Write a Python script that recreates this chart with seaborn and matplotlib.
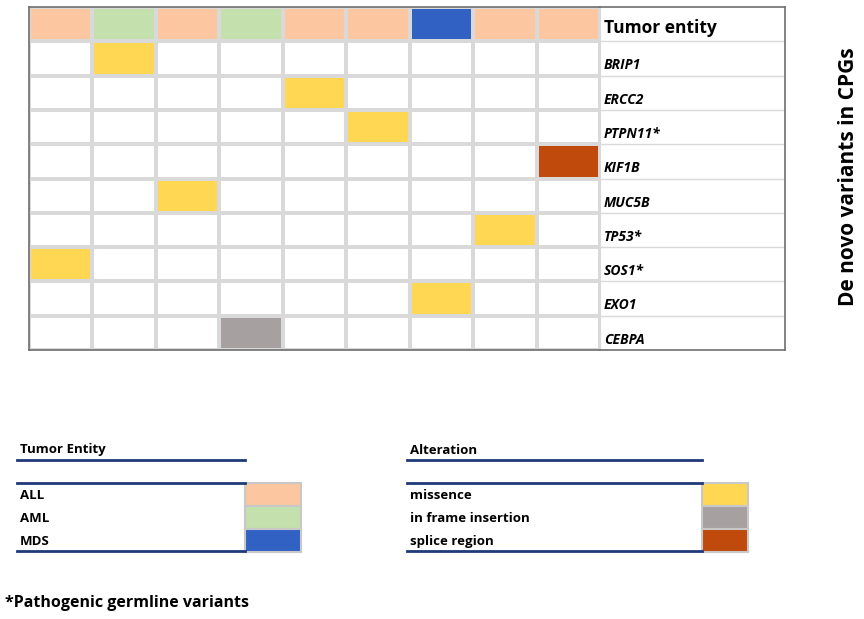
import matplotlib.pyplot as plt
import seaborn as sns
import numpy as np
from matplotlib.colors import ListedColormap
from matplotlib.patches import Rectangle

# Samples (columns) and their tumor entity
sample_entity = ["ALL", "AML", "ALL", "AML", "ALL", "ALL", "MDS", "ALL", "ALL"]

# Genes (rows) with the sample carrying the variant and the alteration type
genes = ["BRIP1", "ERCC2", "PTPN11*", "KIF1B", "MUC5B", "TP53*", "SOS1*", "EXO1", "CEBPA"]
variant_sample = [1, 4, 5, 8, 2, 7, 0, 6, 3]
variant_type = ["missence", "missence", "missence", "splice region", "missence",
                "missence", "missence", "missence", "in frame insertion"]

entities = ["ALL", "AML", "MDS"]
alterations = ["missence", "in frame insertion", "splice region"]

entity_colors = ["#FBC6A0", "#C4E0AD", "#3161C2"]
alteration_colors = ["#FFD752", "#A6A1A0", "#C0490C"]

# code matrix: 0 empty, 1-3 entity, 4-6 alteration
n_samples = len(sample_entity)
matrix = np.zeros((len(genes) + 1, n_samples), dtype=int)
for j, e in enumerate(sample_entity):
    matrix[0, j] = entities.index(e) + 1
for i, (s, t) in enumerate(zip(variant_sample, variant_type)):
    matrix[i + 1, s] = alterations.index(t) + 4

cmap = ListedColormap(["#FFFFFF"] + entity_colors + alteration_colors)

fig = plt.figure(figsize=(8.64, 6.19), dpi=100)
W, H = 864, 619

ax = fig.add_axes([29 / W, 1 - 350 / H, (600 - 29) / W, (350 - 7) / H])
sns.heatmap(matrix, cmap=cmap, vmin=-0.5, vmax=6.5, cbar=False,
            linewidths=1.7, linecolor="#D9D9D9",
            xticklabels=False, yticklabels=False, ax=ax)
for side in ["left", "top", "bottom"]:
    ax.spines[side].set_visible(True)
    ax.spines[side].set_color("#6E6E6E")
    ax.spines[side].set_linewidth(1.2)

# label column
axl = fig.add_axes([600 / W, 1 - 350 / H, 185 / W, (350 - 7) / H])
axl.set_xlim(0, 1)
axl.set_ylim(len(genes) + 1, 0)
axl.set_xticks([])
axl.set_yticks([])
for side in ["top", "right", "bottom"]:
    axl.spines[side].set_color("#6E6E6E")
    axl.spines[side].set_linewidth(1.2)
axl.spines["left"].set_color("#D9D9D9")
axl.hlines(np.arange(1, len(genes) + 1), 0, 1, color="#D9D9D9", lw=1)
axl.text(0.02, 0.62, "Tumor entity", fontsize=12.5, fontweight="bold",
         family="Open Sans", va="center", ha="left")
for i, g in enumerate(genes):
    axl.text(0.02, i + 1.7, g, fontsize=10, fontweight="bold", style="italic",
             family="Open Sans", va="center", ha="left")

fig.text(849 / W, 1 - 177 / H, "De novo variants in CPGs", rotation=90,
         fontsize=15, fontweight="bold", family="Open Sans", ha="center", va="center")

# legends in pixel coordinates
axg = fig.add_axes([0, 0, 1, 1])
axg.set_xlim(0, W)
axg.set_ylim(H, 0)
axg.axis("off")
navy = "#1F3A78"


def draw_legend(x0, x1, title, names, colors):
    axg.text(x0 + 3, 450, title, fontsize=9.5, fontweight="bold",
             family="Open Sans", va="center", ha="left")
    axg.plot([x0, x1], [460, 460], color=navy, lw=2)
    axg.plot([x0, x1], [482.5, 482.5], color=navy, lw=2)
    axg.plot([x0, x1], [551, 551], color=navy, lw=2)
    for k, (n, c) in enumerate(zip(names, colors)):
        y = 483 + k * 23
        axg.add_patch(Rectangle((x1, y), 46 if x1 > 600 else 56, 22.5,
                                facecolor=c, edgecolor="#C8C8C8", lw=1.5))
        axg.text(x0 + 3, y + 12.5, n, fontsize=9.5, fontweight="bold",
                 family="Open Sans", va="center", ha="left")


draw_legend(17, 245, "Tumor Entity", entities, entity_colors)
draw_legend(407, 702, "Alteration", alterations, alteration_colors)

axg.text(5, 603, "*Pathogenic germline variants", fontsize=11.5, fontweight="bold",
         family="Open Sans", va="center", ha="left")

fig.savefig("out.png", dpi=100)
